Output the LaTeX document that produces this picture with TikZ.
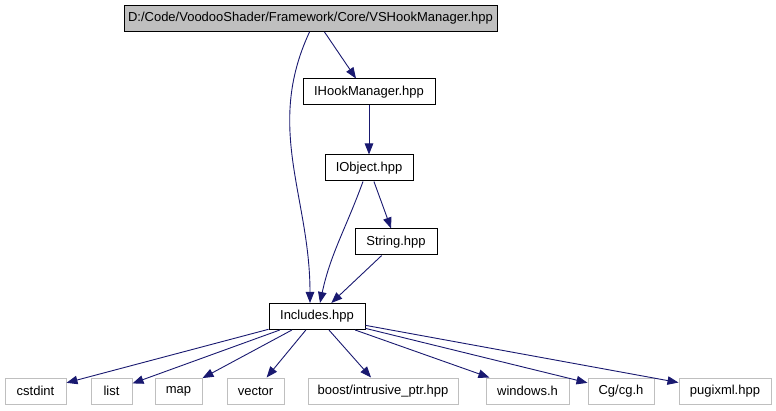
\documentclass[tikz,border=0pt]{standalone}
\usepackage{fontspec}
\setmainfont{Liberation Sans}
\usetikzlibrary{arrows.meta}
\definecolor{edgeblue}{HTML}{191970}
\definecolor{extgray}{HTML}{BFBFBF}

\begin{document}
\begin{tikzpicture}[x=1pt,y=-1pt,->,>={Triangle[length=11pt,width=8.5pt]},
		every edge/.append style={edgeblue,line width=0.9pt}]
			\tikzstyle{hdr}  = [rectangle,draw,line width=1pt,inner xsep=1pt,inner ysep=0pt,minimum height=26pt,font=\fontsize{13}{15}\selectfont]
			\tikzstyle{root} = [hdr,fill=extgray]
			\tikzstyle{ext}  = [hdr,draw=extgray]
			
			\useasboundingbox (0,0) rectangle (776,411);
			
			\node[root,minimum width=373pt] (vshook) at (310.5,18.5) {D:/Code/VoodooShader/Framework/Core/VSHookManager.hpp};
			\node[hdr, minimum width=132pt] (ihook)  at (369,92)    {IHookManager.hpp};
			\node[hdr, minimum width=88pt]  (iobj)   at (369,168)   {IObject.hpp};
			\node[hdr, minimum width=82pt]  (str)    at (396,242)   {String.hpp};
			\node[hdr, minimum width=96pt]  (incl)   at (317,316.5) {Includes.hpp};
			
			\node[ext,minimum width=61pt]  (cstdint) at (35.5,391)  {cstdint};
			\node[ext,minimum width=41pt]  (list)    at (111.5,391) {list};
			\node[ext,minimum width=47pt]  (map)     at (178.5,391) {map};
			\node[ext,minimum width=57pt]  (vector)  at (255.5,391) {vector};
			\node[ext,minimum width=150pt] (boost)   at (383,391)   {boost/intrusive\_ptr.hpp};
			\node[ext,minimum width=83pt]  (windows) at (527.5,391) {windows.h};
			\node[ext,minimum width=66pt]  (cg)      at (621,391)   {Cg/cg.h};
			\node[ext,minimum width=92pt]  (pugi)    at (725,391)   {pugixml.hpp};
			
			\path ([xshift=14pt]vshook.south) edge ([xshift=-13pt]ihook.north) ;
			\path ([xshift=-1pt]vshook.south) edge [out=-115,in=90] ([xshift=-7pt]incl.north) ;
			\path (ihook) edge (iobj) ;
			\path (iobj) edge (str) ;
			\path ([xshift=-6pt]iobj.south) edge [out=-110,in=78] ([xshift=3pt]incl.north) ;
			\path (str) edge (incl) ;
			
			\path (incl) edge (cstdint) ;
			\path (incl) edge (list) ;
			\path (incl) edge (map) ;
			\path (incl) edge (vector) ;
			\path (incl) edge (boost) ;
			\path (incl) edge (windows) ;
			\path (incl) edge (cg) ;
			\path (incl) edge (pugi) ;
		\end{tikzpicture}
\end{document}
